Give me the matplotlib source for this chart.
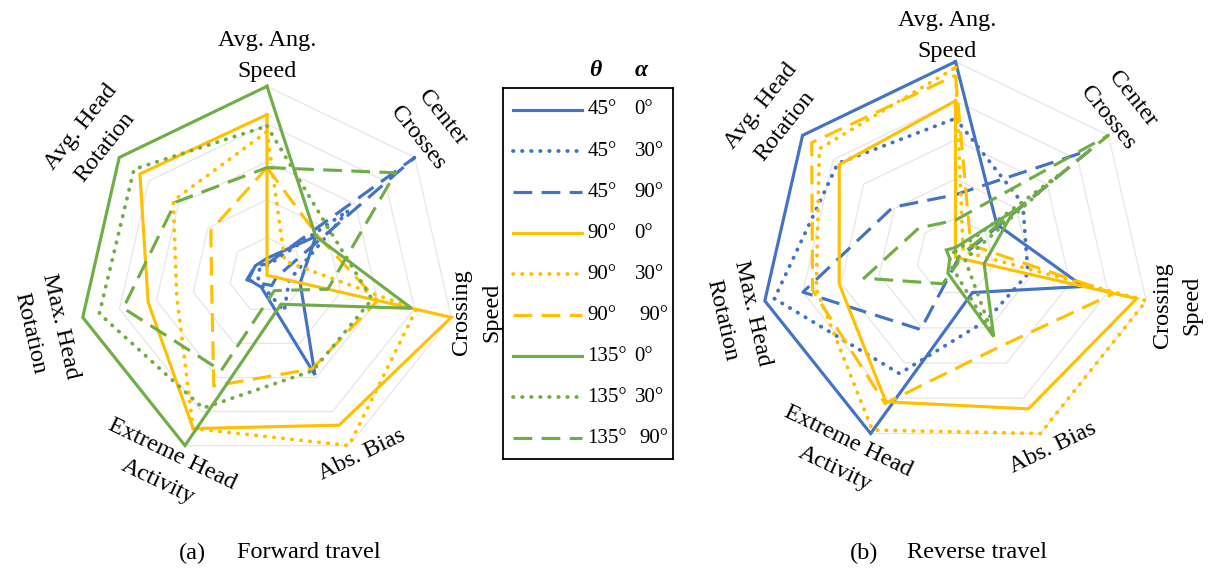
import numpy as np
import matplotlib
matplotlib.use("Agg")
import matplotlib.pyplot as plt
from matplotlib.lines import Line2D

plt.rcParams["font.family"] = ["Liberation Serif", "DejaVu Serif"]

# Axis names (clockwise from the top)
axes_names = ["Avg. Ang.\nSpeed", "Center\nCrosses", "Crossing\nSpeed", "Abs. Bias",
              "Extreme Head\nActivity", "Max. Head\nRotation", "Avg. Head\nRotation"]

theta_labels = ["45°", "45°", "45°", "90°", "90°", "90°", "135°", "135°", "135°"]
alpha_labels = ["0°", "30°", "90°", "0°", "30°", "90°", "0°", "30°", "90°"]

# Normalised metrics, order: AAS, CC, CS, AB, EHA, MHR, AHR
forward = {
    "45_0":   [0.09, 0.33, 0.18, 0.585, 0.07, 0.10, 0.08],
    "45_30":  [0.05, 0.55, 0.12, 0.21, 0.06, 0.05, 0.05],
    "45_90":  [0.06, 1.00, 0.05, 0.06, 0.05, 0.11, 0.08],
    "90_0":   [0.85, 0.00, 1.00, 0.88, 0.90, 0.645, 0.86],
    "90_30":  [0.76, 0.12, 0.81, 1.00, 0.90, 0.49, 0.634],
    "90_90":  [0.57, 0.34, 0.60, 0.55, 0.65, 0.30, 0.38],
    "135_0":  [1.00, 0.33, 0.785, 0.17, 1.00, 1.00, 1.00],
    "135_30": [0.79, 0.41, 0.57, 0.56, 0.78, 0.91, 0.90],
    "135_90": [0.57, 0.87, 0.33, 0.09, 0.56, 0.78, 0.62],
}
reverse = {
    "45_0":   [1.00, 0.27, 0.67, 0.20, 1.00, 1.00, 1.00],
    "45_30":  [0.71, 0.44, 0.38, 0.36, 0.66, 0.95, 0.77],
    "45_90":  [0.32, 0.88, 0.02, 0.02, 0.41, 0.80, 0.41],
    "90_0":   [0.80, 0.00, 0.95, 0.86, 0.82, 0.61, 0.76],
    "90_30":  [0.97, 0.05, 1.00, 1.00, 0.98, 0.73, 0.89],
    "90_90":  [0.93, 0.10, 0.83, 0.51, 0.83, 0.75, 0.94],
    "135_0":  [0.05, 0.38, 0.15, 0.45, 0.09, 0.03, 0.06],
    "135_30": [0.03, 0.67, 0.05, 0.43, 0.05, 0.03, 0.03],
    "135_90": [0.19, 1.00, 0.01, 0.03, 0.15, 0.48, 0.24],
}
series_keys = ["45_0", "45_30", "45_90", "90_0", "90_30", "90_90", "135_0", "135_30", "135_90"]

BLUE, YELLOW, GREEN = "#4472C4", "#FFC000", "#70AD47"
colors = [BLUE] * 3 + [YELLOW] * 3 + [GREEN] * 3
LW = 2.25
styles = [
    dict(linestyle="-", lw=LW),
    dict(linestyle=(0, (0.12, 2.25)), dash_capstyle="round", lw=2.75),
    dict(linestyle=(0, (6.0, 3.0)), dash_capstyle="butt", lw=LW),
] * 3

n = len(axes_names)
angles = np.arange(n) * 2 * np.pi / n
closed = np.append(angles, angles[0])

FS_AXIS = 17.4
FS_LEG = 15
FS_CAP = 17.5

rotations = [0, -51.4, 90, 25.7, -25.7, -77.1, 51.4]


def radar(rect, data, label_pos, cs_pos):
    ax = fig.add_axes(rect, projection="polar")
    ax.set_theta_zero_location("N")
    ax.set_theta_direction(-1)
    ax.set_ylim(0, 1)
    ax.set_xticks([])
    ax.set_yticks([])
    ax.grid(False)
    ax.spines["polar"].set_visible(False)
    ax.patch.set_visible(False)
    for r in [0.2, 0.4, 0.6, 0.8, 1.0]:
        ax.plot(closed, [r] * (n + 1), color="#e6e6e6", lw=0.9, zorder=1)
    for i, key in enumerate(series_keys):
        vals = data[key]
        ax.plot(closed, vals + vals[:1], color=colors[i],
                solid_joinstyle="miter", zorder=3 + i, clip_on=False, **styles[i])
    for j, name in enumerate(axes_names):
        if j == 2:
            continue
        th, rr = label_pos[j]
        ax.text(np.deg2rad(th), rr, name, rotation=rotations[j], ha="center",
                va="center", multialignment="center", fontsize=FS_AXIS,
                linespacing=1.65, rotation_mode="anchor", clip_on=False)
    for word, (th, rr) in zip(["Crossing", "Speed"], cs_pos):
        ax.text(np.deg2rad(th), rr, word, rotation=90, ha="center", va="center",
                fontsize=FS_AXIS, rotation_mode="anchor", clip_on=False)
    return ax


fig = plt.figure(figsize=(12.09, 5.75), dpi=100)

W, H = 1209.0, 575.0


def rect_from(cx, cy, R):
    return [(cx - R) / W, 1 - (cy + R) / H, 2 * R / W, 2 * R / H]


left_labels = [(0, 1.16), (47.9, 1.162), None, (152.1, 1.075), (207.9, 1.153),
               (256.2, 1.21), (308.5, 1.176)]
right_labels = [(-2.2, 1.132), (47.8, 1.135), None, (152.9, 1.095), (209.9, 1.166),
                (254.7, 1.158), (307.7, 1.18)]

radar(rect_from(267, 275.3, 189), forward, left_labels, [(100.7, 1.045), (99.3, 1.206)])
radar(rect_from(955.5, 257.3, 195.6), reverse, right_labels, [(103.0, 1.084), (101.4, 1.234)])

# legend box
lx0, lx1, ly0, ly1 = 503.3, 672.7, 88.3, 459.3
lax = fig.add_axes([lx0 / W, 1 - ly1 / H, (lx1 - lx0) / W, (ly1 - ly0) / H])
lax.set_xlim(lx0, lx1)
lax.set_ylim(ly1, ly0)
lax.set_xticks([])
lax.set_yticks([])
for s in lax.spines.values():
    s.set_linewidth(1.3)
    s.set_color("black")
lax.patch.set_alpha(0)
row_y = np.linspace(110, 438.3, 9)
for i in range(9):
    lax.add_line(Line2D([512.7, 581.7], [row_y[i], row_y[i]], color=colors[i],
                        **styles[i]))
    lax.text(587.5, row_y[i], theta_labels[i], ha="left", va="center", fontsize=FS_LEG)
    ax_x = 639.5 if alpha_labels[i] == "90°" and theta_labels[i] != "45°" else 634.5
    lax.text(ax_x, row_y[i], alpha_labels[i], ha="left", va="center", fontsize=FS_LEG)

fig.text(595 / W, 1 - 70 / H, "θ", ha="center", va="center", fontsize=17,
         style="italic", weight="bold")
fig.text(641.7 / W, 1 - 70 / H, "α", ha="center", va="center", fontsize=17,
         style="italic", weight="bold")

# captions
fig.text(192 / W, 1 - 553 / H, "(a)", ha="center", va="center", fontsize=FS_CAP)
fig.text(237 / W, 1 - 553 / H, "Forward travel", ha="left", va="center", fontsize=FS_CAP)
fig.text(864 / W, 1 - 553 / H, "(b)", ha="center", va="center", fontsize=FS_CAP)
fig.text(907 / W, 1 - 553 / H, "Reverse travel", ha="left", va="center", fontsize=FS_CAP)

fig.savefig("out.png", dpi=100)
